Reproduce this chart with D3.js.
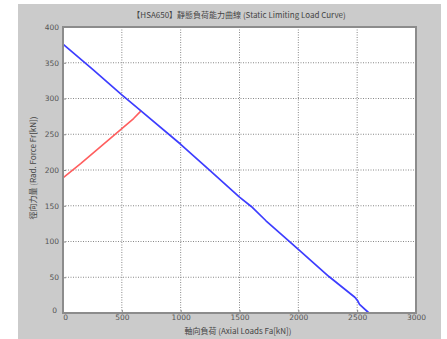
<!DOCTYPE html>
<html><head><meta charset="utf-8">
<script src="https://cdn.jsdelivr.net/npm/d3@7"></script>
<style>body{margin:0;background:#fff}svg{display:block}</style>
</head><body>
<svg id="c" width="447" height="339"></svg>
<script>
const titleText = "【HSA650】靜態負荷能力曲線 (Static Limiting Load Curve)";
const xLabel = "軸向負荷 (Axial Loads Fa[kN])";
const yLabel = "徑向力量 (Rad. Force Fr[kN])";
const xTicks = [0, 500, 1000, 1500, 2000, 2500, 3000];
const yTicks = [0, 50, 100, 150, 200, 250, 300, 350, 400];
// blue curve: axial load, radial force
const blueX = [0, 250, 500, 660, 1000, 1250, 1500, 1600, 1725, 1870, 2000, 2260, 2480, 2505, 2520, 2600];
const blueY = [376, 341, 305, 283, 236, 199, 162, 149, 129, 108, 89, 51, 22, 17, 12, 0];
// red curve
const redX = [0, 150, 300, 500, 600, 665];
const redY = [189, 209, 230, 258, 272, 283];

const svg = d3.select("#c");
const L = 63, R = 416, T = 27, B = 313;
svg.append("rect").attr("x", 18).attr("y", 4).attr("width", 423).attr("height", 335).attr("fill", "#cbcbcb");
svg.append("rect").attr("x", L).attr("y", T).attr("width", R - L).attr("height", B - T).attr("fill", "#fff");

const x = d3.scaleLinear().domain([0, 3000]).range([L, R]);
const y = d3.scaleLinear().domain([0, 400]).range([B, T]);

// grid
const g = svg.append("g");
g.selectAll("line.gx").data(xTicks.slice(1, -1)).join("line")
  .attr("x1", d => x(d)).attr("x2", d => x(d)).attr("y1", T).attr("y2", B)
  .attr("stroke", "#888").attr("stroke-width", 1).attr("stroke-dasharray", "1,1.5");
g.selectAll("line.gy").data(yTicks.slice(1, -1)).join("line")
  .attr("y1", d => y(d)).attr("y2", d => y(d)).attr("x1", L).attr("x2", R)
  .attr("stroke", "#888").attr("stroke-width", 1).attr("stroke-dasharray", "1,1.5");

// lines
const line = d3.line().x(d => x(d[0])).y(d => y(d[1]));
svg.append("path").datum(redX.map((v, i) => [v, redY[i]])).attr("d", line)
  .attr("fill", "none").attr("stroke", "#ff5e5e").attr("stroke-width", 1.6).attr("stroke-linejoin", "round");
svg.append("path").datum(blueX.map((v, i) => [v, blueY[i]])).attr("d", line)
  .attr("fill", "none").attr("stroke", "#3d3dff").attr("stroke-width", 1.7).attr("stroke-linejoin", "round");

// axes
const font = "'DejaVu Sans', sans-serif";
const ax = svg.append("g").attr("transform", `translate(0,${B})`)
  .call(d3.axisBottom(x).tickValues(xTicks).tickSize(-3).tickPadding(2).tickFormat(d3.format("d")));
const ay = svg.append("g").attr("transform", `translate(${L},0)`)
  .call(d3.axisLeft(y).tickValues(yTicks).tickSize(-3).tickPadding(4).tickFormat(d3.format("d")));
[ax, ay].forEach(a => {
  a.select(".domain").remove();
  a.selectAll(".tick line").attr("stroke", "#888");
  a.selectAll("text").attr("fill", "#555").style("font-family", font).style("font-size", "7.5px");
});
ay.selectAll(".tick").filter(d => d === 0).select("text").attr("dy", "-0.1em").attr("x", -6);
ax.selectAll(".tick").filter(d => d === 0).select("text").attr("dx", "0.3em");
// box
svg.append("rect").attr("x", L).attr("y", T).attr("width", R - L).attr("height", B - T)
  .attr("fill", "none").attr("stroke", "#8c8c8c").attr("stroke-width", 2);

// texts
const cjk = "'Noto Sans CJK TC', 'Noto Sans', sans-serif";
svg.append("text").attr("x", 239).attr("y", 18).attr("text-anchor", "middle")
  .style("font-family", cjk).style("font-size", "8px").attr("fill", "#444").text(titleText);
svg.append("text").attr("x", 238).attr("y", 334).attr("text-anchor", "middle")
  .style("font-family", cjk).style("font-size", "8px").attr("fill", "#444").text(xLabel);
svg.append("text").attr("transform", "translate(36,168) rotate(-90)").attr("text-anchor", "middle")
  .style("font-family", cjk).style("font-size", "8px").attr("fill", "#444").text(yLabel);
</script>
</body></html>
